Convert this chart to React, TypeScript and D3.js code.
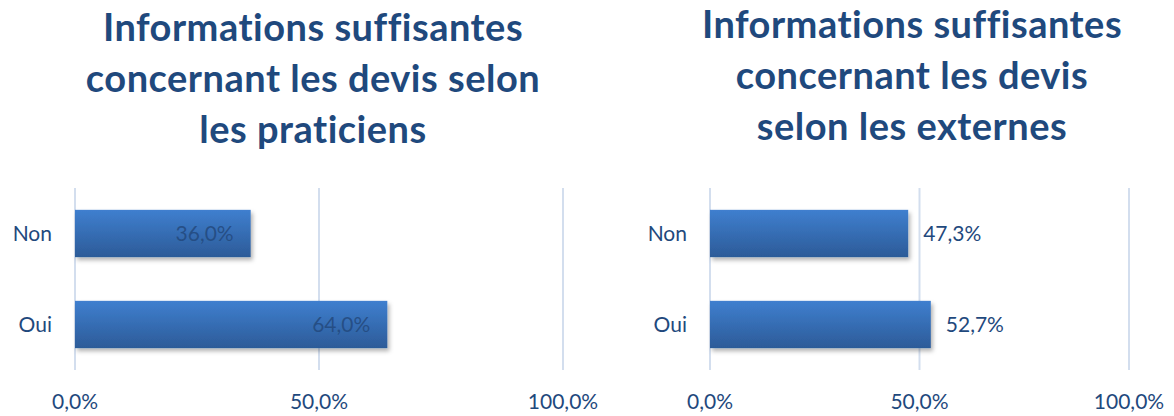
import { formatLocale, scaleBand, scaleLinear } from "d3";

const categories = ["Non", "Oui"];
const praticiensValues = [36.0, 64.0];
const externesValues = [47.3, 52.7];
const tickValues = [0, 50, 100];
const praticiensTitle = ["Informations suffisantes", "concernant les devis selon", "les praticiens"];
const externesTitle = ["Informations suffisantes", "concernant les devis", "selon les externes"];

const fr = formatLocale({ decimal: ",", thousands: " ", grouping: [3], currency: ["", " €"] });
const pct = (v: number) => fr.format(".1f")(v) + "%";

const textColor = "#1f497d";
const font = "Lato, 'Open Sans', sans-serif";

type PanelProps = {
  id: string;
  title: string[];
  titleX: number;
  titleY: number;
  values: number[];
  x0: number;
  x1: number;
  inside: boolean;
};

function Panel({ id, title, titleX, titleY, values, x0, x1, inside }: PanelProps) {
  const x = scaleLinear().domain([0, 100]).range([x0, x1]);
  const y = scaleBand().domain(categories).range([188, 370]).paddingInner(0.48).paddingOuter(0.24);
  const bw = y.bandwidth();

  return (
    <g>
      <defs>
        <linearGradient id={`grad-${id}`} x1="0" y1="0" x2="0" y2="1">
          <stop offset="0%" stopColor="#3f7fcf" />
          <stop offset="100%" stopColor="#2c5b98" />
        </linearGradient>
      </defs>
      <text
        x={titleX}
        textAnchor="middle"
        fontFamily={font}
        fontWeight="bold"
        fontSize={38}
        letterSpacing={0.5}
        fill={textColor}
        style={{ fontVariantLigatures: "none" }}
      >
        {title.map((line, i) => (
          <tspan key={i} x={titleX} y={titleY + i * 51}>
            {line}
          </tspan>
        ))}
      </text>

      {tickValues.map((t) => (
        <g key={t}>
          <line x1={x(t)} x2={x(t)} y1={188} y2={370} stroke="#d3deee" strokeWidth={2} />
          <text
            x={x(t)}
            y={409}
            textAnchor="middle"
            fontFamily={font}
            fontSize={21}
            fill={textColor}
          >
            {pct(t)}
          </text>
        </g>
      ))}

      {categories.map((c, i) => {
        const by = y(c) as number;
        const v = values[i];
        return (
          <g key={c}>
            <rect
              x={x(0)}
              y={by}
              width={x(v) - x(0)}
              height={bw}
              fill={`url(#grad-${id})`}
              filter="url(#shadow)"
            />
            <text
              x={x0 - 23}
              y={by + bw / 2}
              dy="0.35em"
              textAnchor="end"
              fontFamily={font}
              fontSize={21}
              fill={textColor}
            >
              {c}
            </text>
            <text
              x={inside ? x(v) - 17 : x(v) + 15}
              y={by + bw / 2}
              dy="0.35em"
              textAnchor={inside ? "end" : "start"}
              fontFamily={font}
              fontSize={21}
              fill={inside ? "#23497d" : textColor}
              fillOpacity={inside ? 0.85 : 1}
            >
              {pct(v)}
            </text>
          </g>
        );
      })}
    </g>
  );
}

export default function App() {
  return (
    <svg
      width={1174}
      height={416}
      style={{ position: "absolute", left: 0, top: 0, display: "block", background: "#fff" }}
    >
      <defs>
        <filter id="shadow" x="-10%" y="-20%" width="130%" height="160%">
          <feDropShadow dx="2" dy="3" stdDeviation="2" floodColor="#000" floodOpacity="0.3" />
        </filter>
      </defs>
      <Panel
        id="p"
        title={praticiensTitle}
        titleX={313}
        titleY={41}
        values={praticiensValues}
        x0={75}
        x1={563}
        inside={true}
      />
      <Panel
        id="e"
        title={externesTitle}
        titleX={912}
        titleY={38}
        values={externesValues}
        x0={710}
        x1={1129}
        inside={false}
      />
    </svg>
  );
}
